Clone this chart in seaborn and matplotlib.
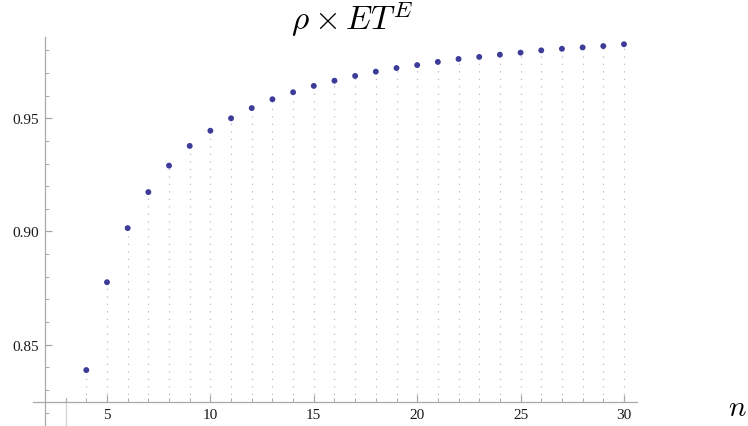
import seaborn as sns
import matplotlib.pyplot as plt
import numpy as np
import pandas as pd
from matplotlib.ticker import MultipleLocator, FormatStrFormatter

# values
n_values = [4, 5, 6, 7, 8, 9, 10, 11, 12, 13, 14, 15, 16, 17,
            18, 19, 20, 21, 22, 23, 24, 25, 26, 27, 28, 29, 30]
rho_values = [0.8388, 0.8776, 0.9015, 0.9174, 0.9291, 0.9378, 0.9445, 0.9500,
              0.9545, 0.9584, 0.9615, 0.9643, 0.9666, 0.9687, 0.9706, 0.9722,
              0.9735, 0.9749, 0.9762, 0.9771, 0.9781, 0.9790, 0.9800, 0.9807,
              0.9813, 0.9819, 0.9827]
x_major = [5, 10, 15, 20, 25, 30]
y_major = [0.85, 0.90, 0.95]

df = pd.DataFrame({"n": n_values, "rho": rho_values})

sns.set_style("white")
plt.rcParams["font.family"] = ["Liberation Serif", "DejaVu Serif"]
plt.rcParams["mathtext.fontset"] = "cm"

axis_y = 0.8246   # where the x axis crosses
axis_x = 2        # where the y axis crosses
ylo, yhi = 0.8141, 0.9859

fig = plt.figure(figsize=(7.48, 4.27), dpi=100)
ax = fig.add_axes([33 / 748, 0, 604 / 748, 389 / 427])

# dotted filling down to the axis
ax.vlines(df["n"], axis_y, df["rho"], colors="#bdbdbd", linewidth=0.9,
          linestyles=(0, (1, 5)), zorder=1)

sns.scatterplot(data=df, x="n", y="rho", ax=ax, color="#3d3d99", s=18,
                edgecolor="none", zorder=3)

ax.set_xlim(1.422, 30.63)
ax.set_ylim(ylo, yhi)

# faint line below the axis at n = 3
ax.axvline(3, ymin=0, ymax=(axis_y + 0.0018 - ylo) / (yhi - ylo),
           color="#d6d6d6", linewidth=1.0, zorder=0)

for side in ["top", "right"]:
    ax.spines[side].set_visible(False)
ax.spines["left"].set_position(("data", axis_x))
ax.spines["bottom"].set_position(("data", axis_y))
for side in ["left", "bottom"]:
    ax.spines[side].set_color("#a8a8a8")
    ax.spines[side].set_linewidth(0.9)

ax.set_xticks(x_major)
ax.set_yticks(y_major)
ax.xaxis.set_minor_locator(MultipleLocator(1))
ax.yaxis.set_minor_locator(MultipleLocator(0.01))
ax.yaxis.set_major_formatter(FormatStrFormatter("%.2f"))
ax.tick_params(which="both", direction="in", colors="#a8a8a8",
               labelcolor="#1a1a1a", labelsize=11, bottom=True, left=True)
ax.tick_params(which="major", length=5, width=0.9)
ax.tick_params(which="minor", length=3, width=0.7)
ax.tick_params(axis="x", pad=4)
ax.tick_params(axis="y", pad=4)

ax.set_xlabel("")
ax.set_ylabel("")

fig.text(352 / 748, 1 - 30 / 427, r"$\rho\times ET^E$", ha="center",
         va="baseline", fontsize=24, color="black")
fig.text(728 / 748, 1 - 416 / 427, r"$n$", ha="left", va="baseline",
         fontsize=21, color="black")

fig.savefig("out.png", dpi=100)
